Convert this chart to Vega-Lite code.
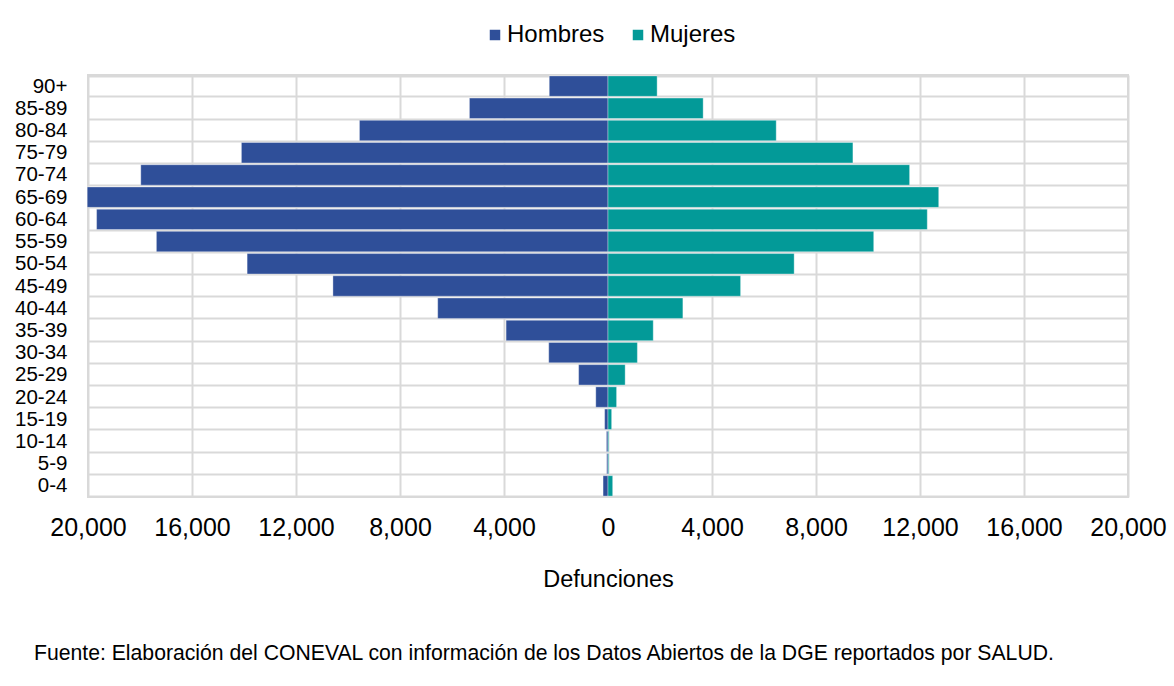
{
  "$schema": "https://vega.github.io/schema/vega-lite/v6.json",
  "width": 1040,
  "height": 422,
  "autosize": {"type": "none"},
  "padding": {"left": 88, "top": 75, "right": 46, "bottom": 189},
  "background": "white",
  "title": {
    "text": "Fuente: Elaboración del CONEVAL con información de los Datos Abiertos de la DGE reportados por SALUD.",
    "orient": "bottom",
    "anchor": "start",
    "frame": "group",
    "dx": -54,
    "offset": 52,
    "font": "Liberation Sans",
    "fontSize": 21.2,
    "fontWeight": "normal",
    "color": "#000000"
  },
  "data": {
    "values": [
      {"edad": "90+", "sexo": "Hombres", "valor": -2260},
      {"edad": "85-89", "sexo": "Hombres", "valor": -5330},
      {"edad": "80-84", "sexo": "Hombres", "valor": -9560},
      {"edad": "75-79", "sexo": "Hombres", "valor": -14100},
      {"edad": "70-74", "sexo": "Hombres", "valor": -17970},
      {"edad": "65-69", "sexo": "Hombres", "valor": -20030},
      {"edad": "60-64", "sexo": "Hombres", "valor": -19670},
      {"edad": "55-59", "sexo": "Hombres", "valor": -17370},
      {"edad": "50-54", "sexo": "Hombres", "valor": -13880},
      {"edad": "45-49", "sexo": "Hombres", "valor": -10580},
      {"edad": "40-44", "sexo": "Hombres", "valor": -6550},
      {"edad": "35-39", "sexo": "Hombres", "valor": -3920},
      {"edad": "30-34", "sexo": "Hombres", "valor": -2280},
      {"edad": "25-29", "sexo": "Hombres", "valor": -1130},
      {"edad": "20-24", "sexo": "Hombres", "valor": -470},
      {"edad": "15-19", "sexo": "Hombres", "valor": -130},
      {"edad": "10-14", "sexo": "Hombres", "valor": -60},
      {"edad": "5-9", "sexo": "Hombres", "valor": -50},
      {"edad": "0-4", "sexo": "Hombres", "valor": -190},
      {"edad": "90+", "sexo": "Mujeres", "valor": 1890},
      {"edad": "85-89", "sexo": "Mujeres", "valor": 3660},
      {"edad": "80-84", "sexo": "Mujeres", "valor": 6470},
      {"edad": "75-79", "sexo": "Mujeres", "valor": 9420},
      {"edad": "70-74", "sexo": "Mujeres", "valor": 11600},
      {"edad": "65-69", "sexo": "Mujeres", "valor": 12720},
      {"edad": "60-64", "sexo": "Mujeres", "valor": 12280},
      {"edad": "55-59", "sexo": "Mujeres", "valor": 10220},
      {"edad": "50-54", "sexo": "Mujeres", "valor": 7160},
      {"edad": "45-49", "sexo": "Mujeres", "valor": 5100},
      {"edad": "40-44", "sexo": "Mujeres", "valor": 2880},
      {"edad": "35-39", "sexo": "Mujeres", "valor": 1740},
      {"edad": "30-34", "sexo": "Mujeres", "valor": 1130},
      {"edad": "25-29", "sexo": "Mujeres", "valor": 660},
      {"edad": "20-24", "sexo": "Mujeres", "valor": 330},
      {"edad": "15-19", "sexo": "Mujeres", "valor": 140},
      {"edad": "10-14", "sexo": "Mujeres", "valor": 30},
      {"edad": "5-9", "sexo": "Mujeres", "valor": 30},
      {"edad": "0-4", "sexo": "Mujeres", "valor": 180}
    ]
  },
  "mark": {"type": "bar", "stroke": "white", "strokeOpacity": 0.35, "strokeWidth": 1},
  "encoding": {
    "y": {
      "field": "edad",
      "type": "nominal",
      "sort": ["90+", "85-89", "80-84", "75-79", "70-74", "65-69", "60-64", "55-59", "50-54", "45-49", "40-44", "35-39", "30-34", "25-29", "20-24", "15-19", "10-14", "5-9", "0-4"],
      "scale": {"paddingInner": 0.08, "paddingOuter": 0.04},
      "axis": {
        "title": null,
        "tickBand": "extent",
        "grid": true,
        "gridColor": "#d9d9d9",
        "gridWidth": 2,
        "ticks": false,
        "domain": false,
        "labelPadding": 21,
        "labelFont": "Liberation Sans",
        "labelFontSize": 20.5,
        "labelColor": "#000000"
      }
    },
    "x": {
      "field": "valor",
      "type": "quantitative",
      "scale": {"domain": [-20000, 20000], "nice": false},
      "axis": {
        "title": "Defunciones",
        "values": [-20000, -16000, -12000, -8000, -4000, 0, 4000, 8000, 12000, 16000, 20000],
        "labelExpr": "format(abs(datum.value), ',')",
        "grid": true,
        "gridColor": "#d9d9d9",
        "gridWidth": 2,
        "ticks": false,
        "domain": false,
        "labelPadding": 18,
        "labelFont": "Liberation Sans",
        "labelFontSize": 25,
        "labelColor": "#000000",
        "labelFlush": false,
        "titleFont": "Liberation Sans",
        "titleFontSize": 23.5,
        "titleFontWeight": "normal",
        "titleColor": "#000000",
        "titlePadding": 27
      }
    },
    "color": {
      "field": "sexo",
      "type": "nominal",
      "scale": {"domain": ["Hombres", "Mujeres"], "range": ["#2F4F99", "#039A98"]},
      "legend": {
        "title": null,
        "orient": "none",
        "direction": "horizontal",
        "legendX": 395,
        "legendY": -52,
        "symbolType": "square",
        "symbolSize": 110,
        "symbolStrokeWidth": 0,
        "labelFont": "Liberation Sans",
        "labelFontSize": 24,
        "labelColor": "#000000",
        "labelOffset": 0,
        "columnPadding": 21
      }
    }
  },
  "config": {
    "view": {"stroke": "#d9d9d9", "strokeWidth": 2}
  }
}
